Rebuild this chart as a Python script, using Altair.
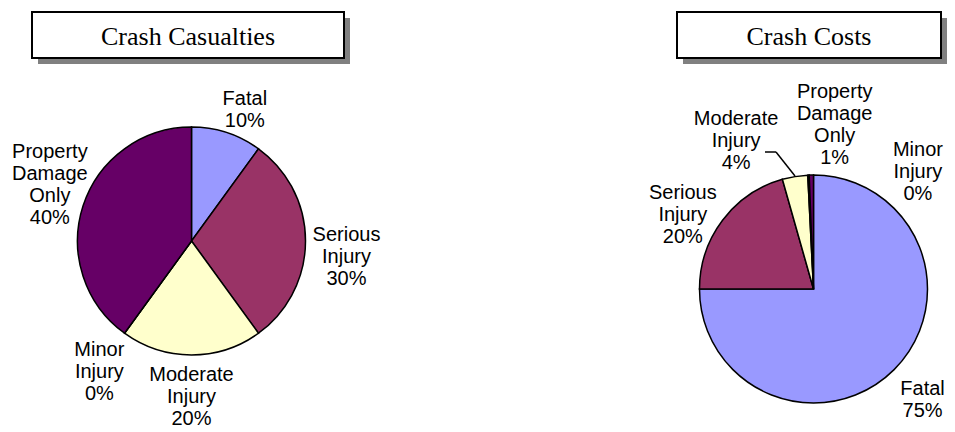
import altair as alt
import pandas as pd

# ---------------- data ----------------
categories = ["Fatal", "Serious Injury", "Moderate Injury", "Minor Injury", "Property Damage Only"]
casualty_values = [10, 30, 20, 0, 40]
cost_values = [75.0, 20.6, 3.6, 0.2, 0.6]
casualty_labels = ["Fatal\n10%", "Serious\nInjury\n30%", "Moderate\nInjury\n20%",
                   "Minor\nInjury\n0%", "Property\nDamage\nOnly\n40%"]
cost_labels = ["Fatal\n75%", "Serious\nInjury\n20%", "Moderate\nInjury\n4%",
               "Minor\nInjury\n0%", "Property\nDamage\nOnly\n1%"]
titles = ["Crash Casualties", "Crash Costs"]

# ---------------- style ----------------
slice_colors = ["#9999FF", "#993366", "#FFFFCC", "#CCFFFF", "#660066"]
W, H = 939, 424
PIE_R = 114
LABEL_R = 150
LABEL_FONT = "Liberation Sans"
LABEL_SIZE = 20
LINE_H = 22
TITLE_FONT = "Liberation Serif"

panels = [
    dict(values=casualty_values, labels=casualty_labels, title=titles[0],
         center=(183.5, 233), box=(24, 336, 4, 50),
         nudges=[(7, 12), (5, 16), (0, 6), (-4, 10), (1, -10)]),
    dict(values=cost_values, labels=cost_labels, title=titles[1],
         center=(805.5, 281), box=(669, 933, 4, 50),
         nudges=[(3, 5), (-11, 16), (-53, 0), (111, 33), (24, -14)]),
]

color_scale = alt.Scale(domain=categories, range=slice_colors)
layers = []
for p in panels:
    df = pd.DataFrame({
        "idx": list(range(len(categories))),
        "category": categories,
        "value": p["values"],
        "label": p["labels"],
    })
    total = float(sum(p["values"]))
    cx, cy = p["center"]

    pie = alt.Chart(df).mark_arc(radius=PIE_R, stroke="black", strokeWidth=1.5).encode(
        theta=alt.Theta("value:Q", stack=True, scale=alt.Scale(domain=[0, total])),
        color=alt.Color("category:N", scale=color_scale, legend=None),
        order=alt.Order("idx:Q"),
        x=alt.value(cx), y=alt.value(cy),
    )
    layers.append(pie)

    for i, cat in enumerate(categories):
        dx, dy = p["nudges"][i]
        n_lines = p["labels"][i].count("\n") + 1
        dy = dy - (n_lines - 1) * LINE_H / 2  # centre the multi-line block
        lab = alt.Chart(df).transform_window(
            cum="sum(value)", sort=[alt.SortField("idx")]
        ).transform_calculate(
            mid="datum.cum - datum.value / 2"
        ).transform_filter(
            alt.datum.category == cat
        ).mark_text(
            radius=LABEL_R, dx=dx, dy=dy, font=LABEL_FONT, fontSize=LABEL_SIZE,
            lineBreak="\n", lineHeight=LINE_H, align="center", baseline="middle", color="black"
        ).encode(
            theta=alt.Theta("mid:Q", stack=None, scale=alt.Scale(domain=[0, total])),
            text="label:N",
            x=alt.value(cx), y=alt.value(cy),
        )
        layers.append(lab)

    x0, x1, y0, y1 = p["box"]
    one = pd.DataFrame({"title": [p["title"]]})
    shadow = alt.Chart(one).mark_rect(color="#808080").encode(
        x=alt.value(x0 + 6), x2=alt.value(x1 + 6), y=alt.value(y0 + 6), y2=alt.value(y1 + 6))
    box = alt.Chart(one).mark_rect(fill="white", stroke="black", strokeWidth=2).encode(
        x=alt.value(x0), x2=alt.value(x1), y=alt.value(y0), y2=alt.value(y1))
    ttl = alt.Chart(one).mark_text(font=TITLE_FONT, fontSize=26, color="black",
                                   align="center", baseline="alphabetic").encode(
        text="title:N", x=alt.value((x0 + x1) / 2), y=alt.value(37))
    layers += [shadow, box, ttl]

# leader line from the "Moderate Injury 4%" label to its slice
leader_df = pd.DataFrame({"k": [0]})
leader_h = alt.Chart(leader_df).mark_rule(color="black", strokeWidth=1.5).encode(
    x=alt.value(757), x2=alt.value(768), y=alt.value(144), y2=alt.value(144))
leader_d = alt.Chart(leader_df).mark_rule(color="black", strokeWidth=1.5).encode(
    x=alt.value(768), x2=alt.value(787), y=alt.value(144), y2=alt.value(168))
layers += [leader_h, leader_d]

chart = alt.layer(*layers).resolve_scale(theta="independent").properties(
    width=W, height=H, autosize="none", padding=0
).configure_view(stroke=None)

chart.save("out.html", embed_options={"renderer": "svg", "actions": False})
